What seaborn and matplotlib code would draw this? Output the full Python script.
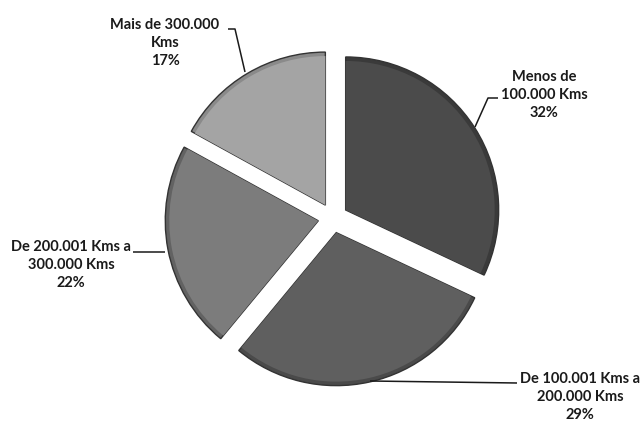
import matplotlib
matplotlib.use("Agg")
import matplotlib.pyplot as plt
import seaborn as sns

categories = ["Menos de\n100.000 Kms", "De 100.001 Kms a\n200.000 Kms",
              "De 200.001 Kms a\n300.000 Kms", "Mais de 300.000\nKms"]
values = [32, 29, 22, 17]
colors = ["#4b4b4b", "#5f5f5f", "#7c7c7c", "#a4a4a4"]
rim_colors = ["#3a3a3a", "#4a4a4a", "#626262", "#8a8a8a"]

sns.set_theme(style="white")
plt.rcParams["font.family"] = ["Lato", "DejaVu Sans"]

W, H = 642, 423
fig = plt.figure(figsize=(W / 100, H / 100), dpi=100)
ax = fig.add_axes([0, 0, 1, 1])

cx, cy = 333, H - 218
radius = 153
explode = [15] * len(values)
# darker rim underneath, then the main fill slightly smaller
ax.pie(values, center=(cx, cy), radius=radius, startangle=90,
       counterclock=False, explode=explode, colors=rim_colors,
       wedgeprops=dict(edgecolor="#333333", linewidth=1.0))
ax.pie(values, center=(cx, cy), radius=radius - 4, startangle=90,
       counterclock=False, explode=explode, colors=colors,
       wedgeprops=dict(linewidth=0))
ax.set_xlim(0, W)
ax.set_ylim(0, H)
ax.set_aspect("equal")
ax.axis("off")

def Y(y):
    return H - y

label_pos = [(544, 95), (580, 397), (71, 265), (165, 43)]
leaders = [
    [(498, 98), (488, 98), (475, 127)],
    [(517, 383), (370, 381)],
    [(133, 252), (165, 252)],
    [(228, 29), (235, 29), (245, 72)],
]
for cat, v, (lx, ly), pts in zip(categories, values, label_pos, leaders):
    ax.text(lx, Y(ly), f"{cat}\n{v}%", ha="center", va="center",
            multialignment="center", fontsize=10.5, fontweight="bold",
            color="#1a1a1a", linespacing=1.4)
    xs = [p[0] for p in pts]
    ys = [Y(p[1]) for p in pts]
    ax.plot(xs, ys, color="#1a1a1a", lw=1.1, solid_capstyle="butt")

fig.savefig("out.png", dpi=100)
